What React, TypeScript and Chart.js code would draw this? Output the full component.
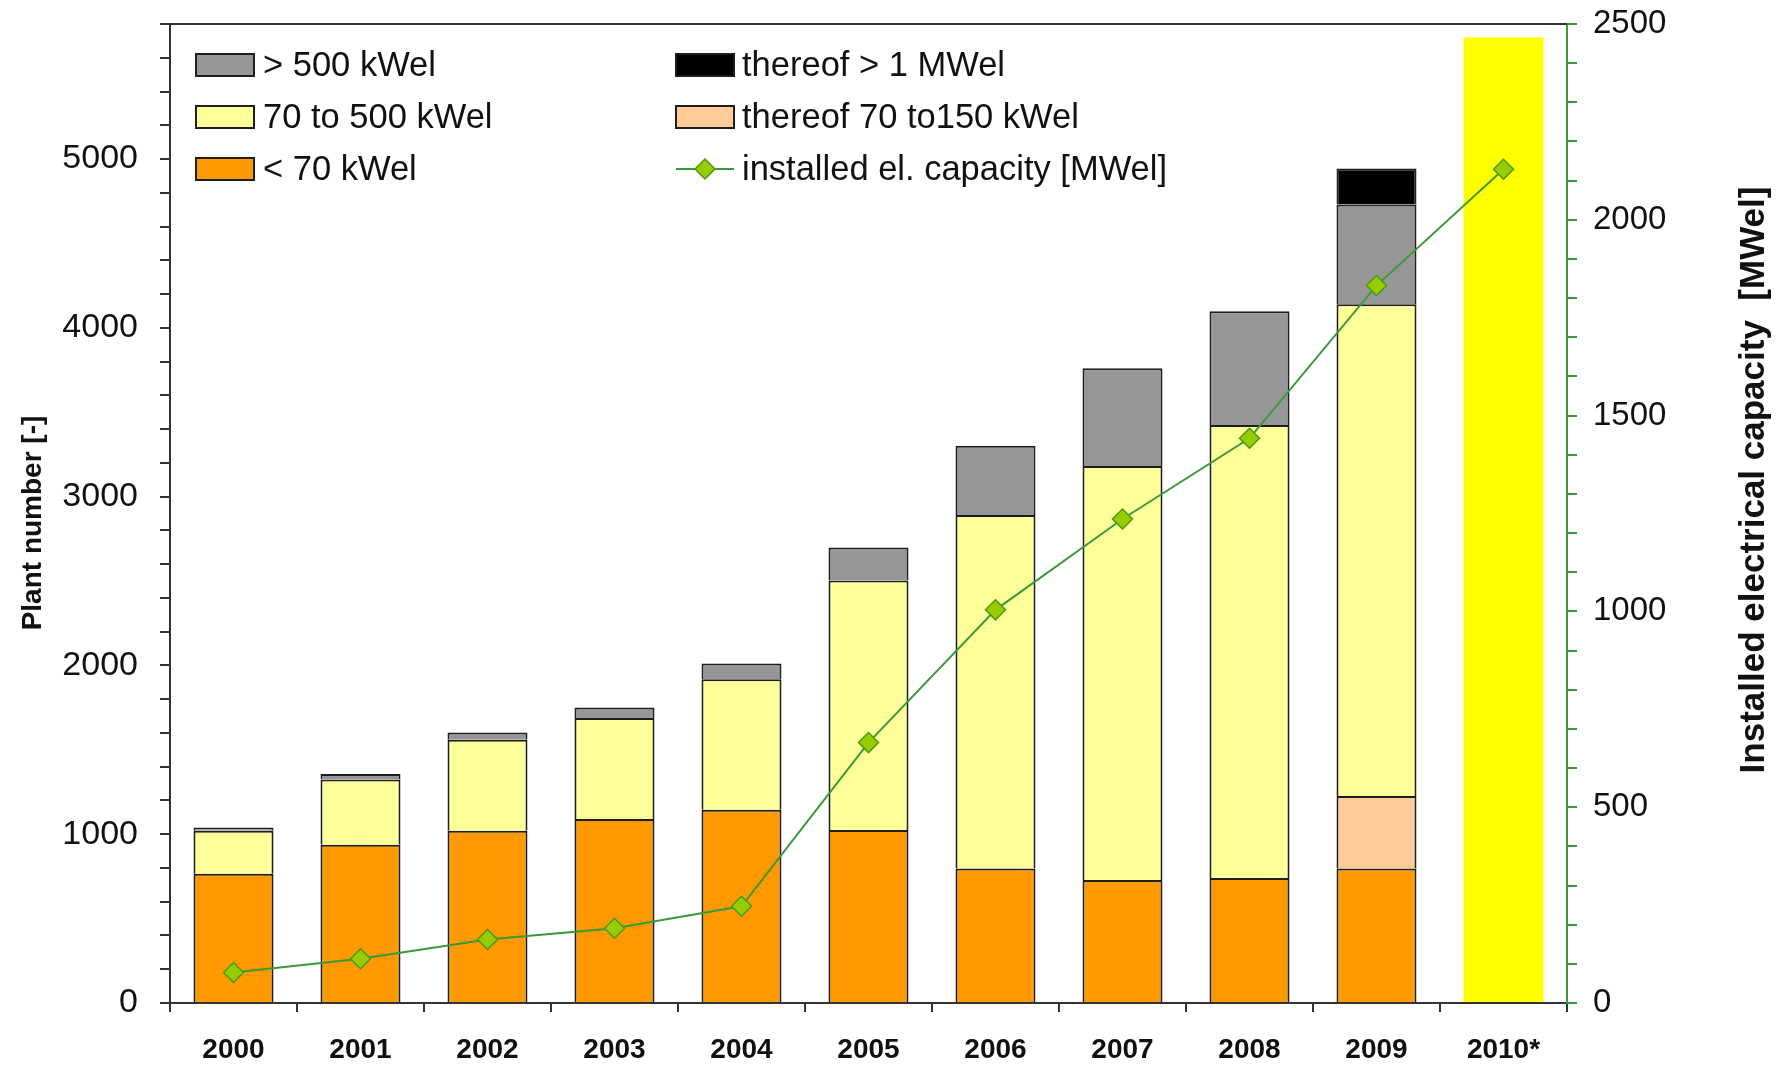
import React, { useEffect, useRef } from 'react';
import { Chart, registerables } from 'chart.js';

Chart.register(...registerables);

// ---- data ----
const years = ['2000', '2001', '2002', '2003', '2004', '2005', '2006', '2007', '2008', '2009', '2010*'];
const below70 = [765, 937, 1020, 1090, 1145, 1025, 797, 728, 740, 797, null];
const thereof70to150 = [null, null, null, null, null, null, null, null, null, 430, null];
const from70to500 = [255, 387, 539, 598, 773, 1478, 2094, 2453, 2685, 2912, null];
const above500 = [20, 33, 43, 63, 94, 196, 410, 579, 673, 592, null];
const thereofAbove1MW = [null, null, null, null, null, null, null, null, null, 213, null];
const outlook2010 = [null, null, null, null, null, null, null, null, null, null, 5720];
const capacityMW = [78, 113, 162, 191, 247, 665, 1004, 1236, 1442, 1832, 2129];

const leftMax = 5800;
const leftStep = 200;
const leftLabelEvery = 1000;
const rightMax = 2500;
const rightStep = 100;
const rightLabelEvery = 500;

const FONT = "'Liberation Sans', Arial, sans-serif";
const BORDER = '#1e1e1e';
const GREEN = '#3a9a3a';

const legendPlugin = {
  id: 'customLegend',
  afterDraw(chart: any) {
    const ctx = chart.ctx;
    const ds = chart.data.datasets;
    const items = [
      { i: 3, col: 0, row: 0 },
      { i: 2, col: 0, row: 1 },
      { i: 0, col: 0, row: 2 },
      { i: 4, col: 1, row: 0 },
      { i: 1, col: 1, row: 1 },
      { i: 6, col: 1, row: 2 },
    ];
    const colBox = [196, 676];
    const colText = [263, 742];
    const rowY = [65, 117, 169];
    ctx.save();
    ctx.font = `34.5px ${FONT}`;
    ctx.textBaseline = 'middle';
    ctx.textAlign = 'left';
    for (const it of items) {
      const d = ds[it.i];
      const x = colBox[it.col];
      const y = rowY[it.row];
      if (d.type === 'line') {
        ctx.strokeStyle = d.borderColor;
        ctx.lineWidth = 2;
        ctx.beginPath();
        ctx.moveTo(x, y);
        ctx.lineTo(x + 58, y);
        ctx.stroke();
        const cx = x + 29;
        const r = 10;
        ctx.beginPath();
        ctx.moveTo(cx, y - r);
        ctx.lineTo(cx + r, y);
        ctx.lineTo(cx, y + r);
        ctx.lineTo(cx - r, y);
        ctx.closePath();
        ctx.fillStyle = d.pointBackgroundColor;
        ctx.fill();
        ctx.strokeStyle = d.pointBorderColor;
        ctx.lineWidth = 1.5;
        ctx.stroke();
      } else {
        ctx.fillStyle = d.backgroundColor;
        ctx.fillRect(x, y - 11, 58, 22);
        ctx.strokeStyle = BORDER;
        ctx.lineWidth = 2;
        ctx.strokeRect(x, y - 11, 58, 22);
      }
      ctx.fillStyle = '#111';
      ctx.fillText(d.label, colText[it.col], y + 1);
    }
    ctx.restore();
  },
};

const framePlugin = {
  id: 'frameAndTitles',
  afterDraw(chart: any) {
    const ctx = chart.ctx;
    const a = chart.chartArea;
    ctx.save();
    ctx.strokeStyle = '#333';
    ctx.lineWidth = 2;
    ctx.beginPath();
    ctx.moveTo(a.left, a.top);
    ctx.lineTo(a.right, a.top);
    ctx.stroke();
    ctx.fillStyle = '#111';
    ctx.textAlign = 'center';
    ctx.textBaseline = 'middle';
    ctx.font = `bold 28px ${FONT}`;
    ctx.translate(33, 523);
    ctx.rotate(-Math.PI / 2);
    ctx.fillText('Plant number [-]', 0, 0);
    ctx.restore();
    ctx.save();
    ctx.fillStyle = '#111';
    ctx.textAlign = 'center';
    ctx.textBaseline = 'middle';
    ctx.font = `bold 35px ${FONT}`;
    ctx.translate(1754, 480);
    ctx.rotate(-Math.PI / 2);
    ctx.fillText('Installed electrical capacity  [MWel]', 0, 0);
    ctx.restore();
  },
};

const fitV = (w: number) => (s: any) => {
  s.width = w;
  s.paddingTop = 0;
  s.paddingBottom = 0;
};

export default function App() {
  const ref = useRef<HTMLCanvasElement | null>(null);

  useEffect(() => {
    document.body.style.margin = '0';
    const canvas = ref.current!;
    const barCommon = {
      type: 'bar' as const,
      borderColor: BORDER,
      borderWidth: 2,
      borderSkipped: 'start',
      stack: 's',
      yAxisID: 'y',
      order: 1,
      barPercentage: 0.63,
      categoryPercentage: 1,
    };
    const chart = new Chart(canvas, {
      data: {
        labels: years,
        datasets: [
          { ...barCommon, label: '< 70 kWel', data: below70, backgroundColor: '#ff9900' },
          { ...barCommon, label: 'thereof 70 to150 kWel', data: thereof70to150, backgroundColor: '#ffcc99' },
          { ...barCommon, label: '70 to 500 kWel', data: from70to500, backgroundColor: '#ffff99' },
          { ...barCommon, label: '> 500 kWel', data: above500, backgroundColor: '#969696' },
          { ...barCommon, label: 'thereof > 1 MWel', data: thereofAbove1MW, backgroundColor: '#000000' },
          { ...barCommon, label: '2010 outlook', data: outlook2010, backgroundColor: '#ffff00', borderWidth: 0 },
          {
            type: 'line' as const,
            label: 'installed el. capacity [MWel]',
            data: capacityMW,
            yAxisID: 'y1',
            order: 0,
            borderColor: GREEN,
            borderWidth: 2,
            pointStyle: 'rectRot',
            pointRadius: 10,
            pointBackgroundColor: '#99cc00',
            pointBorderColor: '#4a9a1a',
            pointBorderWidth: 1.5,
            tension: 0,
          },
        ],
      } as any,
      options: {
        animation: false,
        responsive: false,
        devicePixelRatio: 1,
        layout: { padding: { top: 24, left: 0, right: 0, bottom: 0 } },
        plugins: { legend: { display: false }, tooltip: { enabled: false } },
        scales: {
          x: {
            stacked: true,
            afterFit: (s: any) => { s.height = 63; s.paddingLeft = 0; s.paddingRight = 0; },
            grid: {
              offset: true,
              drawOnChartArea: false,
              drawTicks: true,
              tickLength: 9,
              color: '#333',
              lineWidth: 2,
            },
            border: { display: true, color: '#333', width: 2 },
            ticks: {
              color: '#111',
              font: { family: FONT, size: 28, weight: 'bold' },
              padding: 21,
              maxRotation: 0,
              autoSkip: false,
            },
          },
          y: {
            stacked: true,
            position: 'left',
            min: 0,
            max: leftMax,
            afterFit: fitV(170),
            afterBuildTicks: (s: any) => {
              const t = [];
              for (let v = 0; v <= leftMax; v += leftStep) t.push({ value: v });
              s.ticks = t;
            },
            grid: { drawOnChartArea: false, drawTicks: true, tickLength: 10, color: '#333', lineWidth: 2 },
            border: { display: true, color: '#333', width: 2 },
            ticks: {
              color: '#111',
              font: { family: FONT, size: 34 },
              padding: 22,
              autoSkip: false,
              callback: (v: any) => (Number(v) % leftLabelEvery === 0 ? String(v) : ''),
            },
          },
          y1: {
            position: 'right',
            min: 0,
            max: rightMax,
            afterFit: fitV(213),
            afterBuildTicks: (s: any) => {
              const t = [];
              for (let v = 0; v <= rightMax; v += rightStep) t.push({ value: v });
              s.ticks = t;
            },
            grid: { drawOnChartArea: false, drawTicks: true, tickLength: 10, color: GREEN, lineWidth: 2 },
            border: { display: true, color: GREEN, width: 2 },
            ticks: {
              color: '#111',
              font: { family: FONT, size: 33 },
              padding: 16,
              autoSkip: false,
              callback: (v: any) => (Number(v) % rightLabelEvery === 0 ? String(v) : ''),
            },
          },
        },
      } as any,
      plugins: [legendPlugin, framePlugin],
    });
    return () => chart.destroy();
  }, []);

  return (
    <div style={{ width: 1780, height: 1066, background: '#fff' }}>
      <canvas ref={ref} width={1780} height={1066} style={{ display: 'block' }} />
    </div>
  );
}
